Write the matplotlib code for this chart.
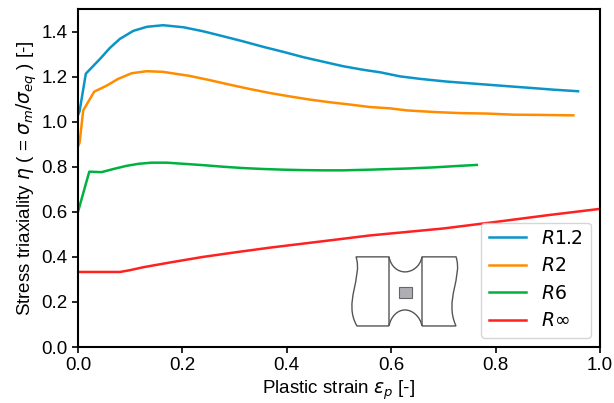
import numpy as np
import matplotlib
matplotlib.use("Agg")
import matplotlib.pyplot as plt
from matplotlib.path import Path
from matplotlib.patches import PathPatch, Rectangle

plt.rcParams['font.family'] = ['Liberation Sans', 'DejaVu Sans']
plt.rcParams['mathtext.fontset'] = 'dejavusans'

# curves
r12_x = [0.0, 0.003, 0.015, 0.042, 0.061, 0.08, 0.106, 0.132, 0.163, 0.202, 0.24, 0.278, 0.317, 0.355, 0.393,
         0.432, 0.47, 0.508, 0.547, 0.579, 0.617, 0.655, 0.706, 0.757, 0.808, 0.86, 0.911, 0.958]
r12_y = [1.03, 1.046, 1.213, 1.278, 1.327, 1.367, 1.403, 1.421, 1.428, 1.419, 1.401, 1.379, 1.356, 1.332, 1.31,
         1.286, 1.266, 1.246, 1.23, 1.219, 1.201, 1.19, 1.178, 1.169, 1.16, 1.151, 1.142, 1.135]
r2_x = [0.0, 0.003, 0.01, 0.031, 0.055, 0.077, 0.103, 0.132, 0.163, 0.214, 0.253, 0.291, 0.329, 0.368, 0.406,
        0.444, 0.483, 0.521, 0.559, 0.598, 0.63, 0.681, 0.732, 0.783, 0.834, 0.885, 0.949]
r2_y = [0.89, 0.906, 1.05, 1.133, 1.16, 1.19, 1.215, 1.224, 1.221, 1.203, 1.184, 1.164, 1.145, 1.127, 1.112,
        1.098, 1.086, 1.076, 1.065, 1.059, 1.05, 1.043, 1.038, 1.036, 1.031, 1.03, 1.028]
r6_x = [0.0, 0.0216, 0.045, 0.068, 0.093, 0.116, 0.141, 0.17, 0.202, 0.24, 0.278, 0.317, 0.355, 0.393, 0.432,
        0.47, 0.508, 0.559, 0.63, 0.681, 0.732, 0.764]
r6_y = [0.60, 0.778, 0.776, 0.79, 0.804, 0.813, 0.818, 0.818, 0.813, 0.807, 0.80, 0.794, 0.79, 0.787, 0.785,
        0.784, 0.784, 0.787, 0.792, 0.797, 0.804, 0.808]
rinf_x = [0.0, 0.0805, 0.0996, 0.125, 0.176, 0.24, 0.304, 0.368, 0.432, 0.496, 0.559, 0.7, 0.8, 0.9, 1.0]
rinf_y = [0.333, 0.333, 0.341, 0.354, 0.375, 0.40, 0.421, 0.441, 0.459, 0.477, 0.495, 0.526, 0.555, 0.585, 0.613]

labels = ['$R1.2$', '$R2$', '$R6$', r'$R\infty$']
colors = ['#0a94c8', '#ff8c00', '#00b140', '#ff2020']

fig = plt.figure(figsize=(6.14, 4.03), dpi=100)
ax = fig.add_axes([78 / 614, 1 - 347 / 403, 522 / 614, 338 / 403])

ax.plot(r12_x, r12_y, color=colors[0], lw=1.8, label=labels[0])
ax.plot(r2_x, r2_y, color=colors[1], lw=1.8, label=labels[1])
ax.plot(r6_x, r6_y, color=colors[2], lw=1.8, label=labels[2])
ax.plot(rinf_x, rinf_y, color=colors[3], lw=1.8, label=labels[3])

ax.set_xlim(0, 1)
ax.set_ylim(0, 1.5)
ax.set_xticks([0, 0.2, 0.4, 0.6, 0.8, 1.0])
ax.set_yticks([0, 0.2, 0.4, 0.6, 0.8, 1.0, 1.2, 1.4])
ax.tick_params(labelsize=13.5, width=1.2, length=4)
for s in ax.spines.values():
    s.set_linewidth(1.5)
ax.set_xlabel(r'Plastic strain $\varepsilon_p$ [-]', fontsize=13.5, labelpad=3)
ax.set_ylabel(r'Stress triaxiality $\eta$ ( = $\sigma_m/\sigma_{eq}$ ) [-]', fontsize=13.5, labelpad=2)
ax.legend(loc='lower right', fontsize=13.5)


# little specimen sketch, pixel positions of the figure
def P(px, py):
    return ((px - 78) / 522, (347 - py) / 225)


sk = dict(fc='none', ec='#555555', lw=1.0, zorder=3)
c4 = [Path.CURVE4] * 3
ax.add_patch(PathPatch(Path(
    [P(389, 326), P(389, 257), P(356, 257), P(363, 277), P(343, 303), P(357, 326), P(389, 326)],
    [Path.MOVETO, Path.LINETO, Path.LINETO] + c4 + [Path.LINETO]), **sk))
ax.add_patch(PathPatch(Path(
    [P(422, 326), P(422, 257), P(456, 257), P(463, 277), P(444, 300), P(456, 326), P(422, 326)],
    [Path.MOVETO, Path.LINETO, Path.LINETO] + c4 + [Path.LINETO]), **sk))
ax.add_patch(PathPatch(Path(
    [P(389, 257), P(391, 267), P(398, 272), P(405, 272), P(412, 272), P(420, 267), P(422, 257)],
    [Path.MOVETO] + c4 + c4), **sk))
ax.add_patch(PathPatch(Path(
    [P(389, 326), P(391, 316), P(398, 310), P(405, 310), P(412, 310), P(420, 316), P(422, 326)],
    [Path.MOVETO] + c4 + c4), **sk))
x0, y0 = P(399, 298)
x1, y1 = P(412, 287)
ax.add_patch(Rectangle((x0, y0), x1 - x0, y1 - y0, fc='#b0aeb4', ec='#666666', lw=0.8, zorder=3))

fig.savefig('out.png', dpi=100)
